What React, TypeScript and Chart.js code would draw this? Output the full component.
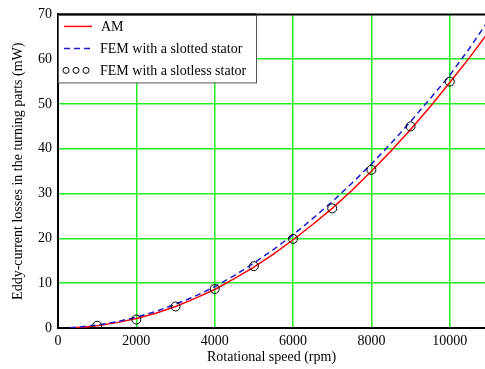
import React, { useEffect, useRef } from "react";
import { Chart, registerables } from "chart.js";

Chart.register(...registerables);

const amSpeeds = [420, 700, 1000, 1500, 2000, 2500, 3000, 3500, 4000, 4500, 5000, 5500, 6000, 6500, 7000, 7500, 8000, 8500, 9000, 9500, 10000, 10500, 11000];
const amLosses = [0.08, 0.25, 0.5, 1.2, 2.1, 3.3, 4.8, 6.6, 8.6, 11.0, 13.6, 16.5, 19.7, 23.1, 26.7, 30.7, 35.0, 39.5, 44.3, 49.4, 54.8, 60.3, 66.2];
const femSlottedSpeeds = [300, 500, 1000, 1500, 2000, 2500, 3000, 3500, 4000, 4500, 5000, 5500, 6000, 6500, 7000, 7500, 8000, 8500, 9000, 9500, 10000, 10500, 11000];
const femSlottedLosses = [0.06, 0.2, 0.65, 1.4, 2.4, 3.7, 5.3, 7.1, 9.2, 11.7, 14.5, 17.5, 20.8, 24.4, 28.2, 32.3, 36.6, 41.2, 46.1, 51.2, 56.4, 62.4, 68.8];
const femSlotlessSpeeds = [1000, 2000, 3000, 4000, 5000, 6000, 7000, 8000, 9000, 10000];
const femSlotlessLosses = [0.5, 1.9, 4.8, 8.7, 13.8, 19.9, 26.7, 35.3, 45.0, 55.0];
const xTickValues = [0, 2000, 4000, 6000, 8000, 10000];
const yTickValues = [0, 10, 20, 30, 40, 50, 60, 70];
const seriesLabels = ["AM", "FEM with a slotted stator", "FEM with a slotless stator"];

const FONT = "'Liberation Serif', 'Times New Roman', serif";

export default function App() {
  const ref = useRef<HTMLCanvasElement | null>(null);

  useEffect(() => {
    document.body.style.margin = "0";
    const canvas = ref.current!;
    const legendPlugin = {
      id: "customLegend",
      afterDraw(chart: any) {
        const ctx = chart.ctx;
        const ca = chart.chartArea;
        ctx.save();
        ctx.strokeStyle = "#000";
        ctx.lineWidth = 2;
        ctx.beginPath();
        ctx.moveTo(ca.left, ca.top);
        ctx.lineTo(ca.right + 10, ca.top);
        ctx.stroke();
        const bx = ca.left + 0.5;
        const by = ca.top;
        const bw = 198;
        const bh = 68;
        ctx.fillStyle = "#fff";
        ctx.fillRect(bx, by, bw, bh);
        ctx.strokeStyle = "#555";
        ctx.lineWidth = 1;
        ctx.strokeRect(bx, by + 0.5, bw, bh);
        ctx.strokeStyle = "#000";
        ctx.lineWidth = 2;
        ctx.beginPath();
        ctx.moveTo(ca.left, ca.top);
        ctx.lineTo(bx + bw, ca.top);
        ctx.stroke();
        const ds = chart.data.datasets;
        const rows = [by + 12, by + 34, by + 56];
        ctx.font = "14px " + FONT;
        ctx.textBaseline = "middle";
        ctx.fillStyle = "#000";
        ctx.strokeStyle = ds[0].borderColor;
        ctx.lineWidth = 1.5;
        ctx.setLineDash([]);
        ctx.beginPath();
        ctx.moveTo(64, rows[0]);
        ctx.lineTo(92, rows[0]);
        ctx.stroke();
        ctx.fillText(ds[0].label, 101, rows[0] + 1);
        ctx.strokeStyle = ds[1].borderColor;
        ctx.setLineDash([6, 4]);
        ctx.beginPath();
        ctx.moveTo(64, rows[1]);
        ctx.lineTo(94, rows[1]);
        ctx.stroke();
        ctx.setLineDash([]);
        ctx.fillText(ds[1].label, 100, rows[1] + 1);
        ctx.strokeStyle = "#000";
        ctx.lineWidth = 1;
        for (const cx of [66, 76, 86]) {
          ctx.beginPath();
          ctx.arc(cx, rows[2], 3, 0, Math.PI * 2);
          ctx.stroke();
        }
        ctx.fillText(ds[2].label, 100, rows[2] + 1);
        ctx.restore();
      },
    };

    const chart = new Chart(canvas, {
      type: "scatter",
      data: {
        datasets: [
          {
            label: seriesLabels[0],
            data: amSpeeds.map((x, i) => ({ x, y: amLosses[i] })),
            showLine: true,
            borderColor: "#ff0000",
            borderWidth: 1.5,
            pointRadius: 0,
            order: 2,
          },
          {
            label: seriesLabels[1],
            data: femSlottedSpeeds.map((x, i) => ({ x, y: femSlottedLosses[i] })),
            showLine: true,
            borderColor: "#1a1acc",
            borderWidth: 1.5,
            borderDash: [6, 4],
            pointRadius: 0,
            order: 1,
          },
          {
            label: seriesLabels[2],
            data: femSlotlessSpeeds.map((x, i) => ({ x, y: femSlotlessLosses[i] })),
            showLine: false,
            pointStyle: "circle",
            pointRadius: 4.5,
            borderColor: "#000",
            backgroundColor: "rgba(0,0,0,0)",
            borderWidth: 1,
            order: 0,
          },
        ],
      },
      options: {
        animation: false,
        responsive: false,
        layout: { autoPadding: false, padding: { top: 13, right: 0, left: 0, bottom: 0 } },
        plugins: { legend: { display: false }, tooltip: { enabled: false } },
        scales: {
          x: {
            type: "linear",
            min: 0,
            max: 10900,
            afterBuildTicks: (s: any) => {
              s.ticks = xTickValues.map((v) => ({ value: v }));
            },
            afterFit: (s: any) => {
              s.height = 41;
            },
            ticks: {
              autoSkip: false,
              maxRotation: 0,
              padding: 5,
              color: "#000",
              font: { family: FONT, size: 14 },
              callback: (v: any) => String(v),
            },
            grid: {
              color: (c: any) => (c.tick && c.tick.value === 0 ? "rgba(0,0,0,0)" : "#22ee22"),
              lineWidth: 1.5,
              drawTicks: false,
            },
            border: { display: true, color: "#000", width: 2 },
            title: {
              display: true,
              text: "Rotational speed (rpm)",
              color: "#000",
              font: { family: FONT, size: 14 },
              padding: { top: 0, bottom: 3 },
            },
          },
          y: {
            min: 0,
            max: 70,
            afterBuildTicks: (s: any) => {
              s.ticks = yTickValues.map((v) => ({ value: v }));
            },
            afterFit: (s: any) => {
              s.width = 58;
            },
            ticks: {
              padding: 6,
              color: "#000",
              font: { family: FONT, size: 14 },
              callback: (v: any) => String(v),
            },
            grid: {
              color: (c: any) =>
                c.tick && (c.tick.value === 0 || c.tick.value === 70) ? "rgba(0,0,0,0)" : "#22ee22",
              lineWidth: 1.5,
              drawTicks: false,
            },
            border: { display: true, color: "#000", width: 2 },
            title: {
              display: true,
              text: "Eddy-current losses in the turning parts (mW)",
              color: "#000",
              font: { family: FONT, size: 14 },
              padding: { top: 10, bottom: 0 },
            },
          },
        },
      },
      plugins: [legendPlugin],
    });
    return () => chart.destroy();
  }, []);

  return (
    <div style={{ position: "fixed", left: 0, top: 0, width: 485, height: 369, background: "#fff", overflow: "hidden" }}>
      <canvas ref={ref} width={485} height={369} style={{ width: 485, height: 369, display: "block" }} />
    </div>
  );
}
